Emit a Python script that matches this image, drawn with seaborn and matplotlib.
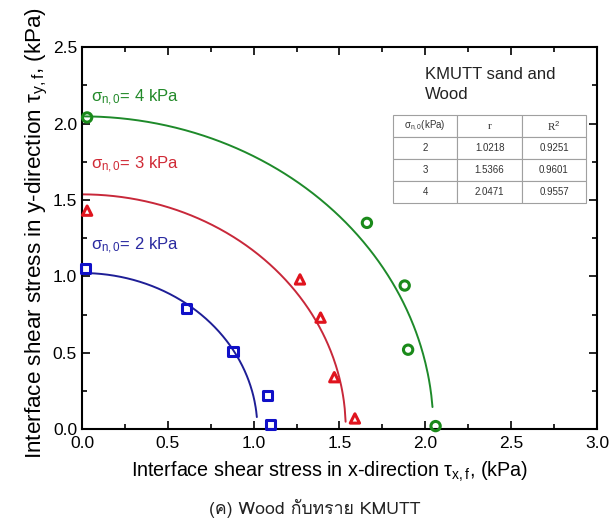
import numpy as np
import pandas as pd
import matplotlib
matplotlib.use("Agg")
import matplotlib.pyplot as plt
from matplotlib import font_manager
from matplotlib.ft2font import FT2Font
from matplotlib.ticker import MultipleLocator
import seaborn as sns

# Measured failure points (tau_x, tau_y) for each initial normal stress
x_2kpa = [0.02, 0.61, 0.88, 1.08, 1.10]
y_2kpa = [1.05, 0.79, 0.51, 0.22, 0.03]
x_3kpa = [0.03, 1.27, 1.39, 1.47, 1.59]
y_3kpa = [1.43, 0.98, 0.73, 0.34, 0.07]
x_4kpa = [0.03, 1.66, 1.88, 1.90, 2.06]
y_4kpa = [2.04, 1.35, 0.94, 0.52, 0.02]

# Fitted circle radii and goodness of fit
sigma_n0 = [2, 3, 4]
radius = [1.0218, 1.5366, 2.0471]
r_squared = [0.9251, 0.9601, 0.9557]

x_ticks = [0.0, 0.5, 1.0, 1.5, 2.0, 2.5, 3.0]
y_ticks = [0.0, 0.5, 1.0, 1.5, 2.0, 2.5]


def thai_font():
    for f in font_manager.fontManager.ttflist:
        try:
            cmap = FT2Font(f.fname).get_charmap()
        except Exception:
            continue
        if 0x0E01 in cmap and 0x0E17 in cmap:
            return f.name
    return None


sns.set_theme(style="ticks")
plt.rcParams["font.family"] = ["Liberation Sans", "DejaVu Sans"]
plt.rcParams["mathtext.fontset"] = "custom"
plt.rcParams["mathtext.rm"] = "Liberation Sans"
plt.rcParams["mathtext.it"] = "Liberation Sans"

fig = plt.figure(figsize=(6.09, 5.24), dpi=100)
ax = fig.add_axes([0.1346, 0.181, 0.8456, 0.729])

points = pd.concat([
    pd.DataFrame({"tx": x_2kpa, "ty": y_2kpa, "s": "2"}),
    pd.DataFrame({"tx": x_3kpa, "ty": y_3kpa, "s": "3"}),
    pd.DataFrame({"tx": x_4kpa, "ty": y_4kpa, "s": "4"}),
])

marker_col = {"2": "#1010c8", "3": "#e0141e", "4": "#1a8a1a"}
line_col = {"2": "#1e1e96", "3": "#c8283a", "4": "#1e8a2a"}
text_col = {"2": "#2a2aa0", "3": "#d02a36", "4": "#238a2a"}
markers = {"2": "s", "3": "^", "4": "o"}
end_frac = {"2": 0.997, "3": 0.9995, "4": 0.9975}

# Circular failure envelopes
for s, r in zip(sigma_n0, radius):
    key = str(s)
    xs = np.linspace(0, r * end_frac[key], 300)
    ys = np.sqrt(r ** 2 - xs ** 2)
    sns.lineplot(x=xs, y=ys, ax=ax, color=line_col[key], lw=1.4,
                 sort=False, estimator=None)

for key in ["2", "3", "4"]:
    d = points[points["s"] == key]
    sns.scatterplot(data=d, x="tx", y="ty", ax=ax, marker=markers[key],
                    s=45, facecolor="none", edgecolor=marker_col[key],
                    linewidth=2.2, zorder=5, clip_on=False)

ax.set_xlim(0, 3.0)
ax.set_ylim(0, 2.5)
ax.set_xticks(x_ticks)
ax.set_yticks(y_ticks)
ax.set_xticklabels([f"{v:.1f}" for v in x_ticks])
ax.set_yticklabels([f"{v:.1f}" for v in y_ticks])
ax.xaxis.set_minor_locator(MultipleLocator(0.25))
ax.yaxis.set_minor_locator(MultipleLocator(0.25))
ax.tick_params(which="both", direction="in", top=True, right=True,
               colors="black", labelsize=12.5, width=1.2)
ax.tick_params(which="major", length=6)
ax.tick_params(which="minor", length=3.5)
ax.tick_params(axis="x", pad=5)
for sp in ax.spines.values():
    sp.set_linewidth(1.5)
    sp.set_color("black")

ax.set_xlabel(r"Interface shear stress in x-direction $\tau_{x,f}$, (kPa)",
              fontsize=14.2, labelpad=6, color="black")
ax.set_ylabel(r"Interface shear stress in y-direction $\tau_{y,f}$, (kPa)",
              fontsize=16.2, labelpad=2, color="black")
ax.xaxis.label.set_x(0.48)
ax.yaxis.label.set_y(0.513)

# Curve labels
for s, yl in zip(sigma_n0, [1.20, 1.73, 2.17]):
    ax.text(0.05, yl, r"$\sigma_{n,0}$= " + f"{s} kPa", color=text_col[str(s)],
            fontsize=12, va="center", ha="left")

# Fit summary
ax.text(0.666, 0.948, "KMUTT sand and\nWood", transform=ax.transAxes,
        fontsize=12, va="top", ha="left", color="#222222", linespacing=1.4)

cells = [[str(s), f"{r:.4f}", f"{q:.4f}"] for s, r, q in zip(sigma_n0, radius, r_squared)]
tbl = ax.table(cellText=cells,
               colLabels=[r"$\sigma_{n,0}$(kPa)", "r", r"R$^{2}$"],
               cellLoc="center", bbox=[0.604, 0.592, 0.375, 0.230])
tbl.auto_set_font_size(False)
tbl.set_fontsize(7)
for (row, col), cell in tbl.get_celld().items():
    cell.set_edgecolor("#a0a0a0")
    cell.set_linewidth(0.8)
    cell.get_text().set_color("#333333")
    if row == 0 and col > 0:
        cell.get_text().set_fontfamily("Liberation Serif")
        cell.get_text().set_fontsize(8)

tf = thai_font()
cap_family = ([tf] if tf else []) + ["Liberation Sans", "DejaVu Sans"]
fig.text(0.517, 0.029, "(ค) Wood กับทราย KMUTT", ha="center", va="center",
         fontsize=12.7, family=cap_family, color="#222222")

fig.savefig("out.png", dpi=100, facecolor="white")
